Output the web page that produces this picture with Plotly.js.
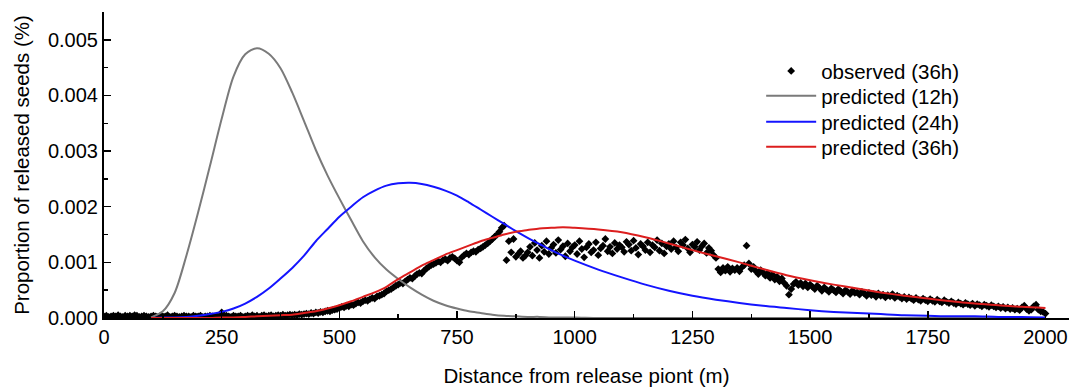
<!DOCTYPE html>
<html>
<head>
<meta charset="utf-8">
<script src="https://cdn.plot.ly/plotly-3.0.1.min.js"></script>
<style>html,body{margin:0;padding:0;background:#fff;}#chart{width:1070px;height:391px;}</style>
</head>
<body>
<div id="chart"></div>
<script>
// Observed (36h), sampled every 5 m from 0 to 2000 m
const obsStep = 5;
const obsY = [
  // 0-95
  0.00003,0.00004,0.00002,0.00003,0.00004,0.00003,0.00005,0.00003,0.00002,0.00004,0.00003,0.00004,0.00003,0.00005,0.00004,0.00002,0.00003,0.00004,0.00003,0.00002,
  // 100-195
  0.00003,0.00004,0.00003,0.00002,0.00004,0.00003,0.00003,0.00005,0.00002,0.00003,0.00004,0.00003,0.00002,0.00003,0.00004,0.00003,0.00003,0.00002,0.00004,0.00003,
  // 200-295
  0.00003,0.00004,0.00002,0.00003,0.00003,0.00004,0.00003,0.00002,0.00004,0.00003,0.0001,0.00003,0.00004,0.00003,0.00002,0.00004,0.00003,0.00003,0.00004,0.00002,
  // 300-395
  0.00003,0.00004,0.00003,0.00005,0.00003,0.00004,0.00002,0.00004,0.00005,0.00003,0.00004,0.00005,0.00003,0.00004,0.00005,0.00004,0.00006,0.00004,0.00005,0.00006,
  // 400-495
  0.00005,0.00006,0.00005,0.00007,0.00006,0.00007,0.00008,0.00007,0.00009,0.00008,0.0001,0.00009,0.00011,0.0001,0.00012,0.00013,0.00012,0.00014,0.00015,0.00016,
  // 500-595
  0.00018,0.0002,0.00019,0.00022,0.00021,0.00024,0.00023,0.00026,0.00028,0.00027,0.0003,0.00032,0.00031,0.00034,0.00036,0.00035,0.00039,0.0004,0.00042,0.00044,
  // 600-695
  0.00048,0.0005,0.00052,0.00055,0.00058,0.0006,0.00063,0.00062,0.00066,0.00069,0.00072,0.00071,0.00075,0.00079,0.00081,0.0008,0.00085,0.00089,0.00092,0.00095,
  // 700-795
  0.00097,0.00099,0.00102,0.001,0.00104,0.00106,0.00103,0.00108,0.0011,0.00107,0.00103,0.001,0.00109,0.00113,0.00116,0.00114,0.00118,0.0012,0.00119,0.00123,
  // 800-895
  0.00125,0.00128,0.00131,0.00134,0.00138,0.00142,0.00146,0.0015,0.00155,0.00162,0.00166,0.00104,0.00138,0.00118,0.00142,0.0011,0.00115,0.0012,0.00108,0.00112,
  // 900-995
  0.00118,0.00128,0.00112,0.00135,0.00122,0.00108,0.0013,0.00119,0.00138,0.00115,0.00126,0.00132,0.00117,0.0014,0.00123,0.00129,0.00111,0.00134,0.0012,0.00127,
  // 1000-1095
  0.00131,0.00115,0.00138,0.00124,0.00109,0.00127,0.00133,0.00118,0.00122,0.00136,0.00113,0.00125,0.0013,0.00142,0.0012,0.00128,0.00116,0.00135,0.00124,0.00131,
  // 1100-1195
  0.00127,0.00119,0.00137,0.00132,0.00121,0.00139,0.00126,0.00114,0.00133,0.00129,0.00122,0.00136,0.00118,0.00131,0.00127,0.0014,0.00121,0.00134,0.00116,0.00129,
  // 1200-1295
  0.00133,0.00124,0.00138,0.00127,0.0012,0.00136,0.00131,0.00141,0.00125,0.00118,0.00132,0.00128,0.00137,0.00122,0.00129,0.00134,0.00117,0.00126,0.00121,0.00113,
  // 1300-1395
  0.00108,0.00088,0.00082,0.0009,0.00085,0.00092,0.00083,0.00089,0.00086,0.0009,0.00084,0.00091,0.00095,0.0013,0.00098,0.00088,0.00092,0.00084,0.00079,0.00086,
  // 1400-1495
  0.00082,0.00076,0.0008,0.00072,0.00078,0.00069,0.00074,0.00066,0.00071,0.00063,0.00058,0.00042,0.00052,0.00061,0.00065,0.00059,0.00063,0.00057,0.00062,0.00055,
  // 1500-1595
  0.0006,0.00056,0.00052,0.00058,0.00054,0.00049,0.00055,0.00051,0.00047,0.00053,0.0005,0.00046,0.00052,0.00048,0.00044,0.0005,0.00047,0.00043,0.00049,0.00045,
  // 1600-1695
  0.00046,0.00042,0.00047,0.00044,0.0004,0.00045,0.00041,0.00043,0.00038,0.00044,0.0004,0.00042,0.00037,0.00041,0.00039,0.00043,0.00036,0.0004,0.00038,0.00035,
  // 1700-1795
  0.00038,0.00034,0.00037,0.00035,0.00032,0.00036,0.00033,0.00031,0.00035,0.00032,0.0003,0.00034,0.00031,0.00029,0.00033,0.0003,0.00028,0.00032,0.00029,0.00027,
  // 1800-1895
  0.0003,0.00027,0.00025,0.00028,0.00026,0.00024,0.00027,0.00025,0.00023,0.00026,0.00022,0.00025,0.00023,0.00021,0.00024,0.00022,0.0002,0.00023,0.00021,0.00019,
  // 1900-1995
  0.00021,0.00018,0.0002,0.00017,0.00019,0.00016,0.00018,0.00015,0.00017,0.00014,0.00019,0.00022,0.00016,0.00013,0.00015,0.00021,0.00024,0.00015,0.00012,0.00011,
  // 2000
  0.00008
];
const obsX = obsY.map((_, i) => i * obsStep);

// Predicted curves, shared distance grid (m)
const curveX = [100,125,150,175,200,225,250,275,300,325,350,375,400,425,450,475,500,525,550,575,600,625,650,675,700,725,750,775,800,825,850,875,900,925,950,975,1000,
  1050,1100,1150,1200,1250,1300,1350,1400,1450,1500,1550,1600,1650,1700,1750,1800,1850,1900,1950,2000];
const pred12 = [0.00001,0.00012,0.00045,0.00112,0.0019,0.00273,0.00358,0.00434,0.00474,0.00485,0.00475,0.00449,0.00405,0.00354,0.00302,0.00256,0.00215,0.00176,0.00138,0.00109,0.00087,0.0007,0.00055,0.00042,0.00031,0.00023,0.00017,0.00012,0.00009,0.00006,0.00004,0.00003,0.00002,0.00002,0.00001,0.00001,0.00001,
  0,0,0,0,0,0,0,0,0,0,0,0,0,0,0,0,0,0,0,0];
const pred24 = [0,0.00001,0.00001,0.00002,0.00004,0.00007,0.00011,0.00017,0.00026,0.00038,0.00053,0.00071,0.0009,0.00112,0.00138,0.0016,0.00182,0.002,0.00217,0.00229,0.00238,0.00242,0.00243,0.00241,0.00236,0.00229,0.0022,0.00208,0.00195,0.00182,0.00169,0.00156,0.00144,0.00133,0.00122,0.00112,0.00103,
  0.00087,0.00073,0.0006,0.00049,0.0004,0.00033,0.00027,0.00022,0.00018,0.00014,0.00011,0.00009,0.00007,0.00005,0.00004,0.00003,0.00003,0.00002,0.00002,0.00001];
const pred36 = [0,0,0,0,0,0,0.00001,0.00001,0.00002,0.00003,0.00004,0.00005,0.00006,0.00009,0.00012,0.00017,0.00023,0.0003,0.00038,0.00046,0.00056,0.0007,0.00082,0.00094,0.00104,0.00114,0.00122,0.0013,0.00138,0.00144,0.0015,0.00155,0.00158,0.00161,0.00162,0.00163,0.00162,
  0.00159,0.00154,0.00145,0.00134,0.00122,0.00111,0.001,0.00088,0.00077,0.00068,0.0006,0.00053,0.00046,0.0004,0.00035,0.0003,0.00026,0.00023,0.0002,0.00018];

const seriesNames = ['observed (36h)','predicted (12h)','predicted (24h)','predicted (36h)'];
const xTicks = [0,250,500,750,1000,1250,1500,1750,2000];
const yTicks = [0,0.001,0.002,0.003,0.004,0.005];

const FONT = 'Liberation Sans, Arial, sans-serif';
const traces = [
  {x: obsX, y: obsY, name: seriesNames[0], mode: 'markers', type: 'scatter', legend: 'legend',
   marker: {symbol: 'diamond', size: 6, color: '#000'}},
  {x: curveX, y: pred12, name: seriesNames[1], mode: 'lines', type: 'scatter', legend: 'legend2',
   line: {color: '#7a7a7a', width: 2, shape: 'spline', smoothing: 0.8}},
  {x: curveX, y: pred24, name: seriesNames[2], mode: 'lines', type: 'scatter', legend: 'legend3',
   line: {color: '#1414ff', width: 2, shape: 'spline', smoothing: 0.8}},
  {x: curveX, y: pred36, name: seriesNames[3], mode: 'lines', type: 'scatter', legend: 'legend4',
   line: {color: '#dc1e1e', width: 2, shape: 'spline', smoothing: 0.8}}
];

function leg(y) {
  return {x: 0.681, y: y, xanchor: 'left', yanchor: 'middle', bgcolor: 'rgba(0,0,0,0)',
          font: {family: FONT, size: 20.5, color: '#000'}, itemwidth: 50};
}

const layout = {
  width: 1070, height: 391,
  margin: {l: 104, r: 1, t: 12, b: 73},
  paper_bgcolor: '#fff', plot_bgcolor: '#fff',
  font: {family: FONT, size: 20, color: '#000'},
  showlegend: true,
  legend: leg(0.807), legend2: leg(0.7255), legend3: leg(0.6405), legend4: leg(0.5588),
  xaxis: {
    range: [0, 2050], tickvals: xTicks, ticktext: xTicks.map(String),
    ticks: 'inside', ticklen: 7, tickwidth: 1.5, tickcolor: '#000',
    minor: {ticks: 'inside', dtick: 125, tick0: 0, ticklen: 4, tickwidth: 1.5, tickcolor: '#000', showgrid: false},
    showline: true, linecolor: '#000', linewidth: 2, showgrid: false, zeroline: false,
    tickfont: {family: FONT, size: 20, color: '#000'},
    title: {text: 'Distance from release piont (m)', font: {family: FONT, size: 20.5, color: '#000'}, standoff: 22},
    automargin: false
  },
  yaxis: {
    range: [0, 0.0055], tickvals: yTicks, tickformat: '.3f',
    ticks: 'inside', ticklen: 7, tickwidth: 1.5, tickcolor: '#000',
    minor: {ticks: 'inside', dtick: 0.0005, tick0: 0, ticklen: 4, tickwidth: 1.5, tickcolor: '#000', showgrid: false},
    showline: true, linecolor: '#000', linewidth: 2, showgrid: false, zeroline: false,
    tickfont: {family: FONT, size: 20, color: '#000'},
    title: {text: 'Proportion of released seeds (%)', font: {family: FONT, size: 20.5, color: '#000'}, standoff: 13},
    automargin: false
  }
};

Plotly.newPlot('chart', traces, layout, {displayModeBar: false, staticPlot: true});
</script>
</body>
</html>
